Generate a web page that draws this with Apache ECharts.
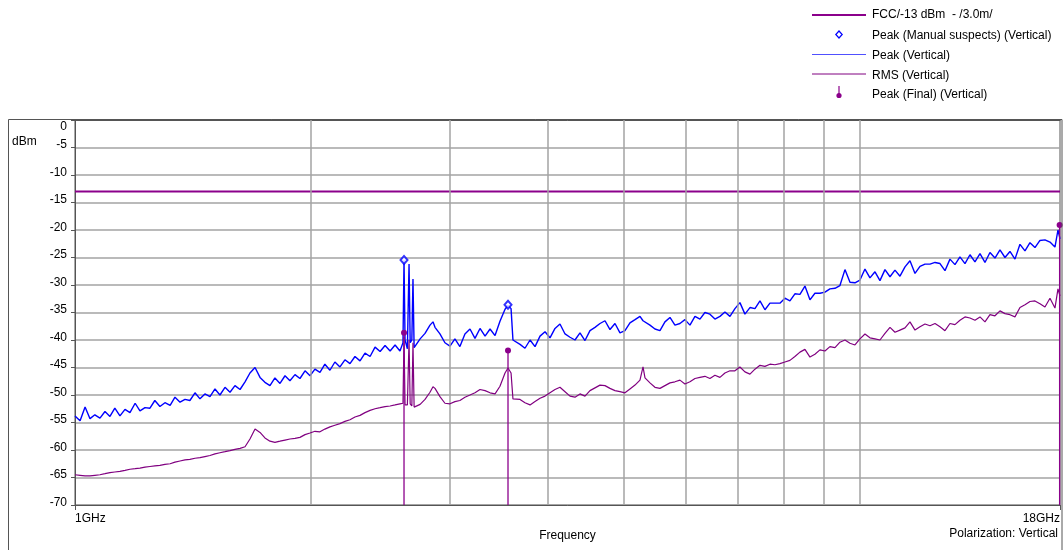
<!DOCTYPE html>
<html>
<head>
<meta charset="utf-8">
<script src="https://cdn.jsdelivr.net/npm/echarts@6/dist/echarts.min.js"></script>
<style>
html,body{margin:0;padding:0;background:#fff;}
#chart{width:1064px;height:550px;}
</style>
</head>
<body>
<div id="chart"></div>
<script>
// ---- data (frequency in MHz, level in dBm) ----
const freqMHz = [
 1000,1015,1030,1045,1060, 1076,1092,1108,1124,1141, 1158,1175,1193,1210,1228,
 1246,1264,1283,1302,1322, 1341,1361,1381,1401,1422, 1443,1464,1486,1508,1530,
 1553,1576,1599,1623,1647, 1671,1696,1721,1746,1772, 1798,1825,1852,1879,1907,
 1935,1964,1993,2022,2052, 2082,2113,2144,2176,2208, 2241,2274,2308,2342,2377,
 2412,2448,2484,2521,2558,
 2595,2618,2626,2634,2652,2665,2674,2687,2696,2705,
 2753,2793,2834,2859,2876,2918,2961,
 3005,3049,3094,3140,3187, 3234,3282,3331,3380,3430,
 3480,3532,3563,3595,3615,3691,
 3745,3801,3857,3914,3972, 4030,4090,4150,4212,4274, 4337,4401,4466,4532,4599,
 4667,4736,4806,4877,4949,
 5022,5096,5172,5248,5295,5326,
 5404,5484,5565,5647,5731, 5815,5901,5988,6077,6167, 6258,6350,6444,6539,6636,
 6734,6834,6935,7037,7141, 7247,7354,7463,7573,7685, 7798,7913,8030,8149,8269,
 8392,8516,8642,8769,8899, 9031,9164,9300,9437,9577, 9719,9862,10008,10156,10306,
 10459,10613,10770,10930,11091, 11255,11422,11590,11762,11936,
 12112,12291,12473,12657,12844, 13033,13226,13421,13620,13821,
 14025,14233,14443,14656,14873, 15093,15316,15542,15772,16005,
 16242,16482,16725,16972,17223, 17478,17736,17893,18000
];
const peakDbm = [
 -53.8,-54.7,-52.2,-54.3,-53.6, -54.2,-53.0,-53.9,-52.4,-53.8, -52.6,-53.2,-51.5,-52.9,-52.3,
 -52.4,-51.0,-52.1,-51.4,-51.9, -50.4,-51.3,-50.8,-51.0,-49.6, -50.7,-49.8,-50.3,-48.9,-50.0,
 -48.6,-49.5,-48.3,-49.0,-47.6, -46.0,-45.0,-46.8,-47.7,-48.3, -46.9,-47.9,-46.5,-47.4,-46.3,
 -47.0,-45.6,-46.5,-45.3,-45.9, -44.4,-45.5,-44.0,-44.9,-43.6, -44.3,-43.0,-43.8,-42.4,-43.0,
 -41.3,-42.1,-41.0,-42.0,-40.9,
 -42.0,-40.5,-25.5,-40.0,-41.6,-26.2,-40.5,-40.0,-28.9,-41.4,
 -39.8,-38.8,-37.3,-36.7,-37.7,-38.9,-40.5,
 -41.1,-39.8,-41.2,-38.9,-38.0, -39.7,-37.9,-39.3,-38.0,-39.2,
 -36.6,-34.4,-33.7,-34.3,-40.0,-40.8,
 -41.5,-40.0,-41.2,-39.3,-38.5, -39.6,-37.9,-37.1,-38.9,-39.5, -40.0,-38.7,-40.1,-38.3,-37.7,
 -37.0,-36.5,-38.1,-37.0,-38.7,
 -38.3,-36.9,-36.3,-35.7,-36.5,-36.2,
 -37.3,-38.0,-38.3,-36.7,-35.9, -37.3,-37.0,-36.3,-37.3,-35.7, -36.2,-35.0,-35.3,-36.2,-35.7,
 -34.9,-35.7,-34.3,-33.2,-35.3, -34.1,-34.3,-32.9,-34.5,-33.3, -33.3,-33.3,-32.4,-32.9,-31.6,
 -31.7,-30.2,-32.7,-31.5,-31.5, -31.3,-30.7,-30.6,-30.1,-27.2, -29.5,-29.6,-29.1,-27.1,-28.7,
 -27.6,-29.2,-27.2,-28.5,-27.3, -28.4,-26.7,-25.6,-27.9,-26.6,
 -26.2,-26.2,-25.9,-26.1,-27.4, -25.3,-26.3,-24.9,-26.1,-24.5,
 -25.8,-24.3,-25.9,-24.1,-25.1, -23.6,-25.0,-23.9,-25.3,-22.6,
 -23.8,-22.3,-23.2,-21.9,-21.8, -22.2,-23.1,-20.0,-21.6
];
const rmsDbm = [
 -64.5,-64.6,-64.7,-64.7,-64.6, -64.5,-64.3,-64.1,-64.0,-63.9, -63.7,-63.5,-63.4,-63.3,-63.1,
 -63.0,-62.9,-62.8,-62.6,-62.5, -62.2,-62.0,-61.8,-61.7,-61.5, -61.4,-61.2,-61.0,-60.7,-60.5,
 -60.3,-60.1,-59.9,-59.7,-59.4, -58.0,-56.2,-56.8,-57.8,-58.4, -58.6,-58.4,-58.2,-58.0,-57.9,
 -57.7,-57.2,-56.9,-56.6,-56.7, -56.2,-55.8,-55.5,-55.2,-54.8, -54.5,-54.0,-53.7,-53.2,-52.8,
 -52.5,-52.3,-52.1,-52.0,-51.8,
 -51.6,-51.5,-39.4,-51.8,-51.8,-40.0,-51.6,-52.0,-40.5,-52.2,
 -51.7,-50.8,-49.5,-48.5,-48.8,-50.3,-51.5,
 -51.6,-51.2,-51.0,-50.4,-50.0, -49.6,-49.0,-49.2,-49.6,-49.8,
 -48.4,-46.0,-45.1,-46.0,-50.7,-50.8,
 -51.4,-51.8,-51.2,-50.6,-50.2, -49.6,-49.0,-48.6,-49.4,-50.2, -50.4,-49.8,-50.2,-49.2,-48.7,
 -48.2,-48.3,-48.8,-49.2,-49.4,
 -49.6,-48.9,-48.2,-47.3,-44.9,-46.9,
 -47.8,-48.6,-48.8,-48.3,-47.8, -47.6,-47.3,-48.0,-47.6,-47.0, -46.8,-46.6,-47.0,-46.4,-46.8,
 -46.0,-45.6,-45.6,-44.9,-45.8, -46.2,-45.3,-44.6,-44.8,-44.4, -44.5,-44.3,-44.0,-43.7,-43.0,
 -42.2,-41.7,-43.1,-42.6,-41.8, -42.0,-41.2,-41.4,-40.4,-40.0, -40.6,-40.9,-39.8,-38.9,-39.6,
 -39.8,-40.0,-38.8,-37.7,-38.6, -38.2,-37.8,-36.7,-38.2,-37.6,
 -37.1,-37.4,-37.0,-37.6,-38.3, -37.0,-37.2,-36.4,-35.8,-36.0,
 -36.4,-35.8,-36.7,-35.4,-35.6, -34.7,-35.2,-35.4,-35.8,-34.1,
 -33.6,-33.0,-32.9,-33.4,-34.0, -32.4,-34.2,-30.7,-32.0
];
const fccFreq = [1000, 18000];
const fccDbm = [-13, -13];
const suspectFreq = [2626, 3563];
const suspectDbm = [-25.45, -33.6];
const finalFreq = [2626, 3563, 17980];
const finalDbm = [-38.7, -41.9, -19.1];
const gridFreqs = [2000, 3000, 4000, 5000, 6000, 7000, 8000, 9000, 10000];
const xTickLabels = ['1GHz', '18GHz'];
const yMin = -70, yMax = 0, yStep = 5;
const legendNames = ['FCC/-13 dBm  - /3.0m/', 'Peak (Manual suspects) (Vertical)', 'Peak (Vertical)', 'RMS (Vertical)', 'Peak (Final) (Vertical)'];

const FONT = 'Arial, "Liberation Sans", sans-serif';
const PURPLE = '#8B008B';
const BLUE = '#0000FF';
const GRID = '#a3a3a3';
const AXIS = '#555555';

// legend layout
const LEG_LEFT = 812, LEG_TOP = 9, LEG_ICON_W = 54, LEG_ROW = 19.5, LEG_ICON_H = 12;
const rowY = i => LEG_TOP + LEG_ICON_H / 2 + i * LEG_ROW;
const cx = LEG_LEFT + LEG_ICON_W / 2;

const pairs = (xs, ys) => xs.map((x, i) => [x, ys[i]]);

const legendIcons = [
  {type: 'line', silent: true, shape: {x1: LEG_LEFT, y1: rowY(0), x2: LEG_LEFT + LEG_ICON_W, y2: rowY(0)},
   style: {stroke: PURPLE, lineWidth: 2}},
  {type: 'polygon', silent: true,
   shape: {points: [[cx, rowY(1) - 3.5], [cx + 3.2, rowY(1)], [cx, rowY(1) + 3.5], [cx - 3.2, rowY(1)]]},
   style: {fill: '#fff', stroke: BLUE, lineWidth: 1.2}},
  {type: 'line', silent: true, shape: {x1: LEG_LEFT, y1: rowY(2) + 0.5, x2: LEG_LEFT + LEG_ICON_W, y2: rowY(2) + 0.5},
   style: {stroke: '#5050ff', lineWidth: 1}},
  {type: 'line', silent: true, shape: {x1: LEG_LEFT, y1: rowY(3) + 0.5, x2: LEG_LEFT + LEG_ICON_W, y2: rowY(3) + 0.5},
   style: {stroke: '#800080', lineWidth: 1}},
  {type: 'line', silent: true, shape: {x1: cx, y1: rowY(4) - 7, x2: cx, y2: rowY(4) + 2},
   style: {stroke: PURPLE, lineWidth: 1.2}},
  {type: 'circle', silent: true, shape: {cx: cx, cy: rowY(4) + 2.5, r: 2.6}, style: {fill: PURPLE}}
];

const chart = echarts.init(document.getElementById('chart'), null, {renderer: 'canvas'});
chart.setOption({
  animation: false,
  backgroundColor: '#fff',
  grid: {left: 75, right: 4, top: 120, bottom: 45, containLabel: false, outerBoundsMode: 'none',
         show: true, borderColor: AXIS, borderWidth: 1, backgroundColor: 'transparent'},
  legend: {
    orient: 'vertical', left: LEG_LEFT, top: LEG_TOP, padding: 0,
    itemWidth: LEG_ICON_W, itemHeight: LEG_ICON_H, itemGap: LEG_ROW - LEG_ICON_H, selectedMode: false,
    icon: 'rect',
    itemStyle: {opacity: 0}, lineStyle: {opacity: 0},
    textStyle: {fontFamily: FONT, fontSize: 12, color: '#000'},
    data: legendNames.map(n => ({name: n, icon: 'rect', itemStyle: {opacity: 0}, lineStyle: {opacity: 0}}))
  },
  xAxis: [
    {type: 'log', logBase: 10, min: 1000, max: 18000, position: 'top',
     axisLine: {show: true, lineStyle: {color: AXIS, width: 1}},
     axisTick: {show: false}, axisLabel: {show: false}, splitLine: {show: false}, minorSplitLine: {show: false}},
    {type: 'value', min: 0, max: 1, interval: 1, position: 'bottom',
     axisLine: {show: true, lineStyle: {color: AXIS, width: 1}},
     axisTick: {show: true, length: 5, lineStyle: {color: AXIS}},
     splitLine: {show: false},
     axisLabel: {
       margin: 8, color: '#000', fontFamily: FONT, fontSize: 12,
       alignMinLabel: 'left', alignMaxLabel: 'right',
       formatter: v => v === 0 ? xTickLabels[0] : (v === 1 ? xTickLabels[1] : '')
     },
     name: 'Frequency', nameLocation: 'middle', nameGap: 24,
     nameTextStyle: {color: '#000', fontFamily: FONT, fontSize: 12}}
  ],
  yAxis: {
    type: 'value', min: yMin, max: yMax, interval: yStep,
    axisLine: {show: true, lineStyle: {color: AXIS, width: 1}},
    axisTick: {show: true, length: 4, lineStyle: {color: AXIS}},
    splitLine: {show: true, lineStyle: {color: GRID, width: 1.5}},
    axisLabel: {
      margin: 8, color: '#000', fontFamily: FONT, fontSize: 12,
      formatter: v => v === 0 ? '{z|0}' : '{n|' + v + '}',
      rich: {
        z: {padding: [14, 0, 0, 0], fontFamily: FONT, fontSize: 12, color: '#000'},
        n: {padding: [0, 0, 5, 0], fontFamily: FONT, fontSize: 12, color: '#000'}
      }
    }
  },
  graphic: [
    {type: 'rect', silent: true, z: 100,
     shape: {x: 8.5, y: 119.5, width: 1053.5, height: 500},
     style: {fill: 'none', stroke: AXIS, lineWidth: 1}},
    {type: 'text', left: 12, top: 136, silent: true,
     style: {text: 'dBm', fill: '#000', font: '12px ' + FONT}},
    {type: 'text', right: 6, top: 528, silent: true,
     style: {text: 'Polarization: Vertical', fill: '#000', font: '12px ' + FONT, textAlign: 'right'}},
    {type: 'group', silent: true, z: 101, children: legendIcons}
  ],
  series: [
    {name: '_grid', type: 'line', xAxisIndex: 0, data: [], z: 1, silent: true,
     markLine: {silent: true, symbol: 'none', label: {show: false}, animation: false,
       lineStyle: {type: 'solid', color: GRID, width: 1.5},
       emphasis: {disabled: true},
       data: gridFreqs.map(f => ({xAxis: f}))}},
    {name: legendNames[0], type: 'line', xAxisIndex: 0, symbol: 'none', z: 3,
     data: pairs(fccFreq, fccDbm), color: PURPLE,
     lineStyle: {color: PURPLE, width: 2}},
    {name: legendNames[2], type: 'line', xAxisIndex: 0, symbol: 'none', z: 4,
     data: pairs(freqMHz, peakDbm), color: BLUE,
     lineStyle: {color: BLUE, width: 1.4}},
    {name: legendNames[3], type: 'line', xAxisIndex: 0, symbol: 'none', z: 5,
     data: pairs(freqMHz, rmsDbm), color: '#800080',
     lineStyle: {color: '#800080', width: 1.2}},
    {name: legendNames[4], type: 'custom', xAxisIndex: 0, z: 6, color: PURPLE,
     data: pairs(finalFreq, finalDbm),
     encode: {x: 0, y: 1},
     renderItem: (params, api) => {
       const top = api.coord([api.value(0), api.value(1)]);
       const bot = api.coord([api.value(0), yMin]);
       return {type: 'group', children: [
         {type: 'line', shape: {x1: top[0], y1: top[1], x2: bot[0], y2: bot[1]},
          style: {stroke: PURPLE, lineWidth: 1.3}},
         {type: 'circle', shape: {cx: top[0], cy: top[1], r: 3}, style: {fill: PURPLE}}
       ]};
     }},
    {name: legendNames[1], type: 'scatter', xAxisIndex: 0, z: 7,
     symbol: 'emptyDiamond', symbolSize: [7, 8], color: BLUE,
     itemStyle: {color: BLUE, borderColor: BLUE, borderWidth: 1.2},
     data: pairs(suspectFreq, suspectDbm)}
  ]
});
</script>
</body>
</html>
